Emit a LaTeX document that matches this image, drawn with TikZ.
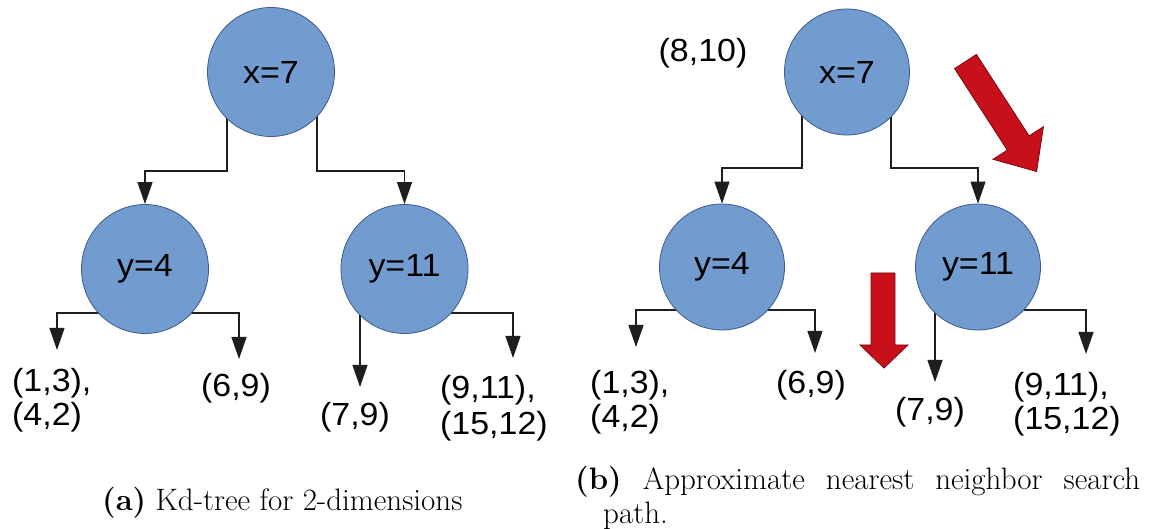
\documentclass[tikz,border=0pt]{standalone}
\usepackage{fontspec}
\newfontfamily\labfont[FakeStretch=1.06]{Liberation Sans}
\usetikzlibrary{arrows.meta,shapes.geometric,backgrounds,calc}
\definecolor{nodefill}{RGB}{114,156,207}
\definecolor{nodeline}{RGB}{60,90,140}
\definecolor{arrowred}{RGB}{200,16,26}
\definecolor{arrowedge}{RGB}{120,10,20}
\definecolor{conncol}{RGB}{30,30,30}
\begin{document}
\begin{tikzpicture}[x=1pt,y=-1pt,
  kd/.style={ellipse,draw=nodeline,fill=nodefill,line width=0.8pt,inner sep=0pt,
    minimum width=127pt,minimum height=129pt,font=\labfont\fontsize{32}{34}\selectfont},
  kdb/.style={kd,minimum width=125pt,minimum height=126pt},
  leaf/.style={inner sep=0pt,align=left,font=\labfont\fontsize{32}{34}\selectfont},
  leafb/.style={leaf},
  conn/.style={draw=conncol,line width=1.1pt,-{Triangle[length=22pt,width=15pt]}},
  redarrow/.style={fill=arrowred,draw=arrowedge,line width=0.8pt,line join=miter},
  captext/.style={inner sep=0pt,anchor=base west,font=\fontsize{31}{35}\selectfont}]
\useasboundingbox (0,0) rectangle (1149,529);

% ---------- panel (a) ----------
\node[kd] (ra) at (271,72) {x=7};
\node[kd] (la) at (145,269) {y=4};
\node[kd] (ma) at (404.5,269) {y=11};
\node[leaf,anchor=north west] (a13) at (12,368) {(1,3),\\(4,2)};
\node[leaf] (a69) at (236,388) {(6,9)};
\node[leaf] (a79) at (355,417) {(7,9)};
\node[leaf,anchor=north west,font=\labfont\fontsize{32}{36}\selectfont] (a911) at (440,375) {(9,11),\\(15,12)};

% ---------- panel (b) ----------
\node[kdb] (rb) at (847,72) {x=7};
\node[kdb] (lb) at (722,267) {y=4};
\node[kdb] (mb) at (978,267) {y=11};
\node[leafb] (b810) at (703,53) {(8,10)};
\node[leafb,anchor=north west] (b13) at (590,370) {(1,3),\\(4,2)};
\node[leafb] (b69) at (811,385) {(6,9)};
\node[leafb] (b79) at (930,412) {(7,9)};
\node[leafb,anchor=north west] (b911) at (1013,372) {(9,11),\\(15,12)};

\begin{scope}[on background layer]
  % panel (a)
  \draw[conn] ([xshift=-44pt]ra.center) -- ++(0,99) -| (la.north);
  \draw[conn] ([xshift=46pt]ra.center) -- ++(0,99) -| (ma.north);
  \draw[conn] ([shift={(-45,44)}]la.center) -| ([shift={(45,-18)}]a13.north west);
  \draw[conn] ([shift={(45,44)}]la.center) -| ([shift={(3,-29)}]a69.center);
  \draw[conn] ([shift={(-44.5,40)}]ma.center) -- ([shift={(5,-30)}]a79.center);
  \draw[conn] ([shift={(45.5,44)}]ma.center) -| ([shift={(73,-17)}]a911.north west);
  % panel (b)
  \draw[conn] ([xshift=-45pt]rb.center) -- ++(0,96) -| (lb.north);
  \draw[conn] ([xshift=44pt]rb.center) -- ++(0,96) -| (mb.north);
  \draw[conn] ([shift={(-45,43)}]lb.center) -| ([shift={(46,-23)}]b13.north west);
  \draw[conn] ([shift={(45,43)}]lb.center) -| ([shift={(4,-32)}]b69.center);
  \draw[conn] ([shift={(-43,38)}]mb.center) -- ([shift={(5,-30)}]b79.center);
  \draw[conn] ([shift={(46,43)}]mb.center) -| ([shift={(73,-18)}]b911.north west);
\end{scope}

% red search-path arrows
\draw[redarrow] (976.4,54.4) -- (1029.1,135.9) -- (1043.4,126.7) -- (1036.6,171.5)
  -- (993,159.3) -- (1007.3,150.1) -- (954.6,68.6) -- cycle;
\draw[redarrow] (871,273) -- (895,273) -- (895,345) -- (908,345) -- (884,368)
  -- (860,345) -- (871,345) -- cycle;

% captions
\node[captext] (capa) at (102,510) {\textbf{(a)} Kd-tree for 2-dimensions};
\node[captext] (capb1) at (575,489) {\makebox[565pt][s]{\textbf{(b)} Approximate nearest neighbor search}};
\node[captext] (capb2) at (603,523) {path.};
\end{tikzpicture}
\end{document}
